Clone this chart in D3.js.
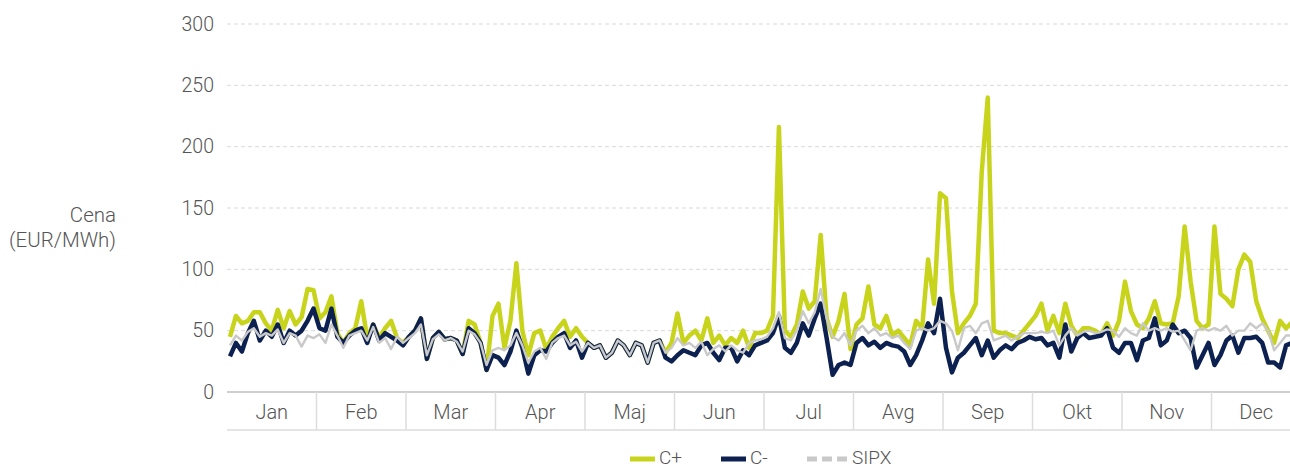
<!DOCTYPE html>
<html>
<head>
<meta charset="utf-8">
<script src="https://cdn.jsdelivr.net/npm/d3@7"></script>
<style>
  body { margin: 0; background: #fff; }
  svg text { font-family: Roboto, "Open Sans", sans-serif; font-weight: 300; fill: #555; }
</style>
</head>
<body>
<svg id="chart" width="1290" height="468"></svg>
<script>
let months = ['Jan', 'Feb', 'Mar', 'Apr', 'Maj', 'Jun', 'Jul', 'Avg', 'Sep', 'Okt', 'Nov', 'Dec'];
let yTicks = [0, 50, 100, 150, 200, 250, 300];

// 15 readings per month
let cPlus = [
  45, 62, 56, 58, 65, 65, 56, 50, 67, 52, 66, 55, 61, 84, 83,
  60, 65, 78, 48, 40, 48, 52, 74, 44, 55, 44, 52, 58, 44, 40,
  45, 50, 60, 27, 44, 49, 43, 44, 42, 31, 58, 55, 40, 18, 62,
  72, 36, 58, 105, 50, 30, 48, 50, 35, 45, 52, 58, 45, 52, 45,
  40, 36, 38, 28, 32, 42, 38, 30, 40, 38, 24, 40, 42, 32, 40,
  64, 40, 46, 50, 42, 60, 40, 46, 38, 44, 40, 50, 36, 48, 48,
  50, 62, 216, 50, 45, 55, 82, 68, 74, 128, 60, 45, 58, 80, 35,
  55, 60, 86, 55, 52, 62, 46, 50, 44, 38, 58, 52, 108, 72, 162,
  158, 82, 48, 56, 62, 72, 180, 240, 50, 48, 48, 46, 44, 50, 56,
  62, 72, 50, 62, 48, 72, 54, 46, 52, 52, 50, 47, 56, 46, 58,
  90, 66, 55, 52, 60, 74, 56, 55, 56, 78, 135, 90, 58, 52, 55,
  135, 80, 76, 70, 100, 112, 106, 74, 60, 50, 40, 58, 52, 57, 55
];
let cMinus = [
  29, 40, 33, 48, 58, 42, 50, 45, 55, 40, 50, 46, 50, 58, 68,
  52, 50, 68, 45, 40, 46, 50, 52, 40, 55, 42, 48, 45, 42, 38,
  45, 50, 60, 27, 44, 49, 43, 44, 42, 31, 52, 48, 40, 18, 30,
  28, 22, 33, 50, 36, 15, 30, 34, 33, 40, 45, 48, 36, 42, 28,
  40, 36, 38, 28, 32, 42, 38, 30, 40, 38, 24, 40, 42, 28, 25,
  30, 34, 32, 30, 38, 40, 32, 26, 36, 36, 25, 34, 30, 38, 40,
  42, 48, 62, 36, 32, 40, 56, 46, 60, 72, 44, 14, 22, 24, 22,
  40, 44, 38, 41, 36, 40, 38, 37, 33, 22, 30, 42, 56, 48, 76,
  36, 16, 28, 32, 38, 44, 30, 42, 28, 34, 38, 35, 40, 42, 45,
  43, 44, 38, 40, 28, 55, 33, 44, 48, 44, 45, 46, 52, 36, 32,
  40, 40, 26, 42, 44, 60, 38, 42, 55, 48, 50, 44, 20, 30, 40,
  22, 30, 42, 46, 32, 44, 44, 45, 40, 24, 24, 20, 38, 40, 40
];
let sipx = [
  38, 46, 42, 49, 52, 45, 48, 46, 51, 40, 48, 46, 37, 46, 44,
  47, 40, 55, 46, 36, 46, 48, 50, 42, 53, 40, 44, 35, 45, 40,
  44, 48, 55, 30, 43, 47, 42, 44, 41, 33, 50, 47, 40, 22, 34,
  36, 34, 38, 48, 38, 24, 33, 36, 27, 40, 44, 46, 38, 41, 33,
  40, 36, 38, 28, 32, 42, 38, 30, 40, 38, 24, 40, 42, 32, 36,
  44, 38, 40, 36, 41, 30, 35, 38, 33, 38, 34, 32, 40, 42, 43,
  45, 52, 65, 44, 42, 50, 66, 56, 65, 84, 60, 45, 42, 48, 38,
  50, 54, 48, 52, 46, 48, 44, 46, 40, 35, 50, 52, 50, 52, 58,
  56, 50, 34, 52, 54, 48, 56, 58, 42, 44, 46, 42, 45, 48, 48,
  48, 49, 48, 50, 38, 46, 52, 46, 49, 50, 48, 49, 51, 50, 45,
  52, 48, 46, 56, 50, 52, 50, 52, 49, 50, 42, 34, 50, 52, 50,
  52, 50, 54, 46, 50, 50, 56, 52, 56, 50, 34, 40, 46, 46, 46
];

let seriesNames = ['C+', 'C-', 'SIPX'];
let seriesColors = ['#c8d41c', '#0d2150', '#c9c9c9'];

let svg = d3.select('#chart');

let plotLeft = 227, plotRight = 1301, plotTop = 24, plotBottom = 392, bandBottom = 430;

let xScale = d3.scaleLinear().domain([0, cPlus.length]).range([plotLeft, plotRight]);
let monthScale = d3.scaleBand().domain(months).range([plotLeft, plotRight]);
let yScale = d3.scaleLinear().domain([0, 300]).range([plotBottom, plotTop]);

// gridlines + y labels
let yAxis = svg.append('g');
yAxis.selectAll('line')
    .data(yTicks.filter(t => t > 0))
    .enter()
    .append('line')
    .attr('x1', plotLeft)
    .attr('x2', 1290)
    .attr('y1', d => yScale(d))
    .attr('y2', d => yScale(d))
    .attr('stroke', '#d9d9d9')
    .attr('stroke-width', 1)
    .attr('stroke-dasharray', '4,3');

yAxis.selectAll('text')
    .data(yTicks)
    .enter()
    .append('text')
    .attr('x', 214)
    .attr('y', d => yScale(d))
    .attr('dy', '0.35em')
    .attr('text-anchor', 'end')
    .style('font-size', '19.5px')
    .text(d => d);

svg.append('text')
    .attr('text-anchor', 'end')
    .style('font-size', '20.5px')
    .selectAll('tspan')
    .data(['Cena', '(EUR/MWh)'])
    .enter()
    .append('tspan')
    .attr('x', 116)
    .attr('y', (d, i) => 222 + i * 25)
    .text(d => d);

// month band axis
let xAxis = svg.append('g');
xAxis.append('line')
    .attr('x1', plotLeft).attr('x2', 1290)
    .attr('y1', plotBottom).attr('y2', plotBottom)
    .attr('stroke', '#cfcfcf').attr('stroke-width', 2);
xAxis.append('line')
    .attr('x1', plotLeft).attr('x2', 1290)
    .attr('y1', bandBottom).attr('y2', bandBottom)
    .attr('stroke', '#dcdcdc').attr('stroke-width', 1.5);
xAxis.selectAll('.sep')
    .data(months.slice(1))
    .enter()
    .append('line')
    .attr('class', 'sep')
    .attr('x1', d => monthScale(d)).attr('x2', d => monthScale(d))
    .attr('y1', plotBottom).attr('y2', bandBottom)
    .attr('stroke', '#dcdcdc').attr('stroke-width', 1.5);
xAxis.selectAll('text')
    .data(months)
    .enter()
    .append('text')
    .attr('x', d => monthScale(d) + monthScale.bandwidth() / 2)
    .attr('y', 412)
    .attr('dy', '0.35em')
    .attr('text-anchor', 'middle')
    .style('font-size', '20px')
    .text(d => d);

// lines
let line = d3.line()
    .x((d, i) => xScale(i + 0.5))
    .y(d => yScale(d));

let plot = svg.append('g');
plot.append('path').datum(cPlus)
    .attr('d', line).attr('fill', 'none')
    .attr('stroke', seriesColors[0]).attr('stroke-width', 4.5)
    .attr('stroke-linejoin', 'round');
plot.append('path').datum(cMinus)
    .attr('d', line).attr('fill', 'none')
    .attr('stroke', seriesColors[1]).attr('stroke-width', 4.5)
    .attr('stroke-linejoin', 'round');
plot.append('path').datum(sipx)
    .attr('d', line).attr('fill', 'none')
    .attr('stroke', seriesColors[2]).attr('stroke-width', 2.4)
    .attr('stroke-linejoin', 'round');

// legend
let legendX = [630, 721, 807];
let swatchW = [25, 25, 41];
let legend = svg.append('g');
let items = legend.selectAll('g')
    .data(seriesNames)
    .enter()
    .append('g')
    .attr('transform', (d, i) => `translate(${legendX[i]}, 457)`);
items.append('line')
    .attr('x1', 0).attr('x2', (d, i) => swatchW[i])
    .attr('y1', 2).attr('y2', 2)
    .attr('stroke', (d, i) => seriesColors[i])
    .attr('stroke-width', 5)
    .attr('stroke-dasharray', (d, i) => i === 2 ? '10,5' : null);
items.append('text')
    .attr('x', (d, i) => swatchW[i] + 4)
    .attr('y', 0)
    .attr('dy', '0.35em')
    .style('font-size', '19px')
    .text(d => d);
</script>
</body>
</html>
